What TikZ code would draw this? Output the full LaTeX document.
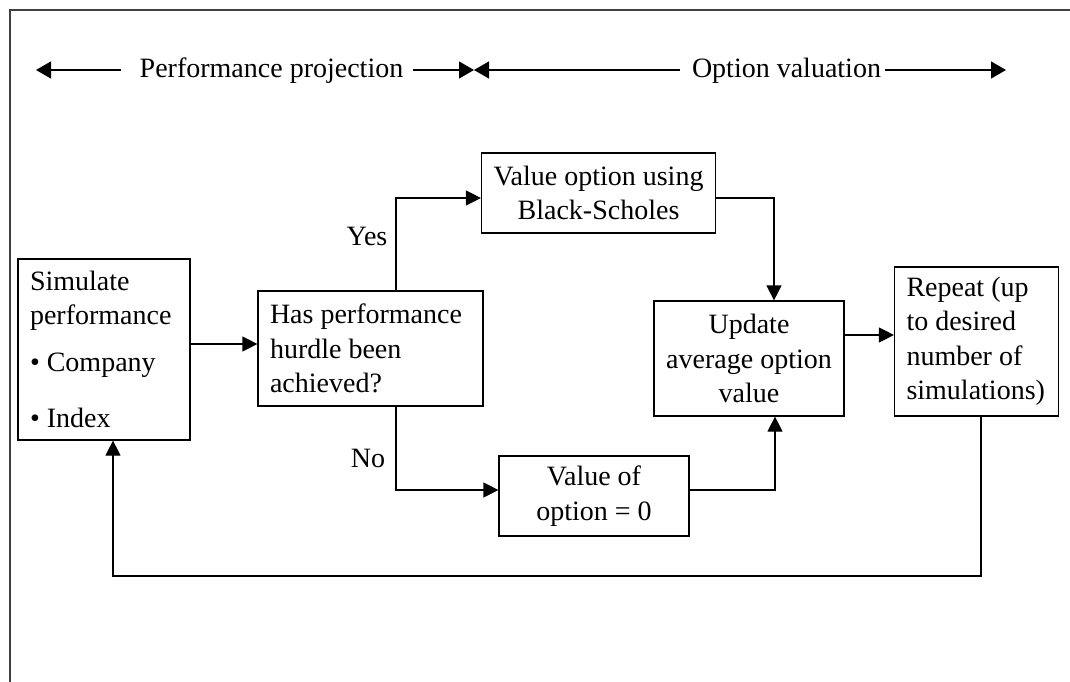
\documentclass[tikz,border=0pt]{standalone}
\usepackage{fontspec}
\setmainfont{Liberation Serif}
\usetikzlibrary{arrows.meta}
\hyphenpenalty=10000
\exhyphenpenalty=10000
\begin{document}
\begin{tikzpicture}[x=1pt,y=-1pt,
  txt/.style={font=\fontsize{28}{34.5}\selectfont},
  box/.style={txt,draw,line width=1.2pt,inner xsep=12pt,inner ysep=0pt,minimum width=#1},
  arr/.style={line width=1.2pt,-{Triangle[length=15pt,width=15pt]}},
  toparr/.style={line width=1.2pt,-{Triangle[length=15pt,width=17pt]}},
  frame/.style={draw=black!75,line width=1.5pt}]
\useasboundingbox (0,0) rectangle (1070,682);
\draw[frame] (10,682) -- (10,10) -- (1070,10);

% header
\node[txt,anchor=base] (pp) at (271.5,78) {Performance projection};
\node[txt,anchor=base] (ov) at (786.5,78) {Option valuation};
\coordinate (a0) at (36,70);
\coordinate (a1) at (121,70);
\coordinate (a2) at (413,70);
\coordinate (a3) at (474,70);
\coordinate (a4) at (680,70);
\coordinate (a5) at (885,70);
\coordinate (a6) at (1006,70);
\draw[toparr] (a1) -- (a0);
\draw[toparr] (a2) -- (a3);
\draw[toparr] (a4) -- (a3);
\draw[toparr] (a5) -- (a6);

% boxes
\node[box=172pt,minimum height=181pt,text width=148pt,align=flush left] (sim) at (104,349.5)
  {Simulate\\performance\\[12pt]\textbullet\ Company\\[22pt]\textbullet\ Index};
\node[box=225pt,minimum height=115pt,text width=201pt,align=flush left] (has) at (370.5,348.5)
  {Has performance\\hurdle been\\achieved?};
\node[box=233pt,minimum height=80pt,align=flush center] (bs) at (598.5,193)
  {Value option using\\Black-Scholes};
\node[box=190pt,minimum height=115pt,align=flush center] (upd) at (749,358.5)
  {Update\\average option\\value};
\node[box=163pt,minimum height=149pt,text width=140pt,align=flush left] (rep) at (976.5,341.5)
  {Repeat (up\\to desired\\number of\\simulations)};
\node[box=190pt,minimum height=80pt,align=flush center] (zero) at (594,496)
  {Value of\\option = 0};

% labels
\node[txt,anchor=base] (yes) at (367,245) {Yes};
\node[txt,anchor=base] (no) at (368,467) {No};

% connectors
\draw[arr] (sim.east |- 0,344) -- (has.west |- 0,344);
\draw[arr] (396,0 |- has.north) |- (bs.west |- 0,198);
\draw[arr] (bs.east |- 0,198) -| (774,0 |- upd.north);
\draw[arr] (396,0 |- has.south) |- (zero.west |- 0,490);
\draw[arr] (zero.east |- 0,490) -| (775,0 |- upd.south);
\draw[arr] (upd.east |- 0,335) -- (rep.west |- 0,335);
\coordinate (loop) at (981,576);
\draw[arr] (981,0 |- rep.south) -- (loop) -| (113,0 |- sim.south);
\end{tikzpicture}
\end{document}
